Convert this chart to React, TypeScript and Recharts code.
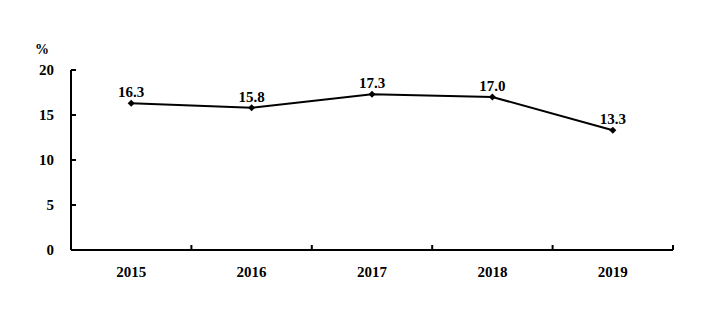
import { ComposedChart, Line, XAxis, YAxis, LabelList, Label } from 'recharts'

const years = ['2015', '2016', '2017', '2018', '2019']
const rates = [16.3, 15.8, 17.3, 17.0, 13.3]
const yTicks = [0, 5, 10, 15, 20]
const bandEdges = [0, 1, 2, 3, 4, 5]

const data = years.map((year, i) => ({ year, idx: i, rate: rates[i] }))

const font = { fontFamily: '"Liberation Serif", "Times New Roman", serif', fontWeight: 'bold', fontSize: 15, fill: '#000' }
const Y_MARGIN = 17

// small diamond marker like the excel original
function Diamond(props: any) {
  const { cx, cy } = props
  if (cx == null || cy == null) return null
  const r = 3.5
  return <path d={`M${cx},${cy - r} L${cx + r},${cy} L${cx},${cy + r} L${cx - r},${cy} Z`} fill="#000" />
}

// y tick: label on the left, short tick pointing into the plot
function YTick(props: any) {
  const { x, y, payload } = props
  const ax = x + Y_MARGIN
  return (
    <g>
      <line x1={ax} x2={ax + 5} y1={y} y2={y} stroke="#000" strokeWidth={2} />
      <text x={x} y={y} dy="0.36em" textAnchor="end" style={font}>{payload.value}</text>
    </g>
  )
}

// x edge tick: pointing upward into the plot
function EdgeTick(props: any) {
  const { x, y } = props
  return <line x1={x} x2={x} y1={y} y2={y - 5} stroke="#000" strokeWidth={2} />
}

export default function App() {
  return (
    <div style={{ position: 'absolute', left: 0, top: 0, width: 709, height: 311, background: '#fff' }}>
      <ComposedChart width={709} height={311} data={data} margin={{ top: 70, right: 36, left: 31, bottom: 30 }}>
        {/* axis line + inward ticks at the category boundaries */}
        <XAxis
          xAxisId={0}
          dataKey="idx"
          type="number"
          domain={[0, 5]}
          ticks={bandEdges}
          interval={0}
          tick={<EdgeTick />}
          tickLine={false}
          tickSize={0}
          tickMargin={0}
          height={1}
          axisLine={{ stroke: '#000', strokeWidth: 2 }}
        />
        <XAxis
          dataKey="year"
          xAxisId={1}
          scale="band"
          axisLine={false}
          tickLine={false}
          tickSize={0}
          tickMargin={15}
          height={30}
          tick={font}
        />
        <YAxis
          domain={[0, 20]}
          ticks={yTicks}
          width={40}
          tickLine={false}
          tickSize={0}
          tickMargin={Y_MARGIN}
          tick={<YTick />}
          axisLine={{ stroke: '#000', strokeWidth: 2 }}
        >
          <Label value="%" position="top" offset={16} dx={-9} style={{ ...font, fontSize: 14 }} />
        </YAxis>
        <Line
          xAxisId={1}
          type="linear"
          dataKey="rate"
          stroke="#000"
          strokeWidth={2}
          dot={<Diamond />}
          activeDot={false}
          isAnimationActive={false}
        >
          <LabelList dataKey="rate" position="top" offset={6} formatter={(v: any) => Number(v).toFixed(1)} style={font} />
        </Line>
      </ComposedChart>
    </div>
  )
}
